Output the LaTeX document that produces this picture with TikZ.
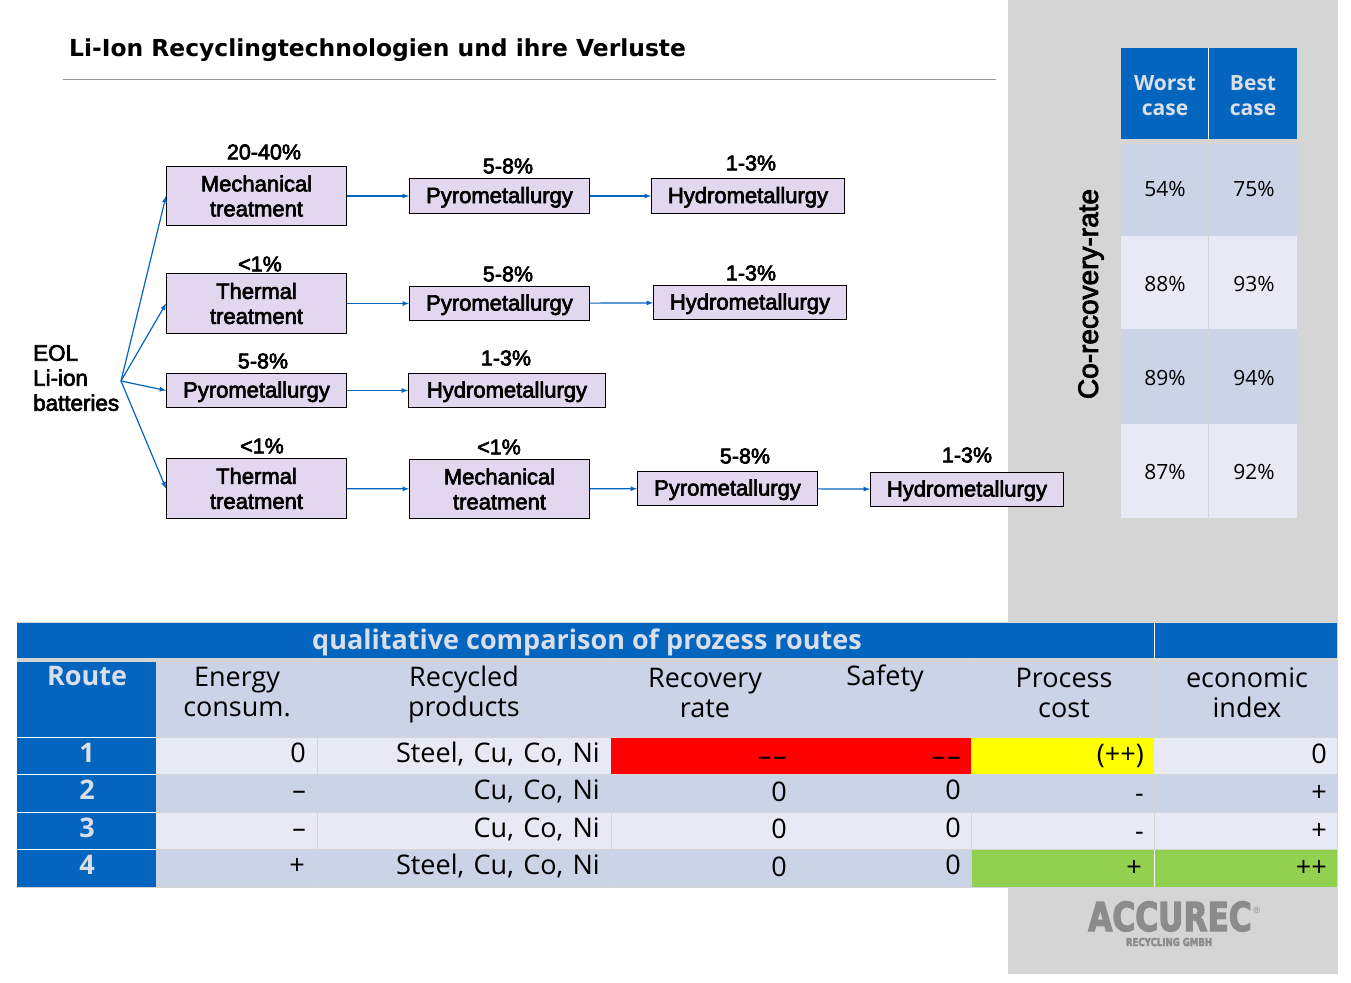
\documentclass[tikz,border=0pt]{standalone}
\usepackage{fontspec}
\usetikzlibrary{arrows}
\setmainfont{Liberation Sans}
\newfontfamily\boxfam[FakeBold=3]{Liberation Sans}
\newfontfamily\titlefam{DejaVu Sans}
\newfontfamily\cellfam{Open Sans}
\newfontfamily\logofam[FakeStretch=0.78,FakeBold=3]{DejaVu Sans Bold}
\definecolor{headblue}{HTML}{0465BF}
\definecolor{panelgray}{HTML}{D5D5D5}
\definecolor{boxlilac}{HTML}{E2D7EE}
\definecolor{rowdark}{HTML}{CBD3E7}
\definecolor{rowlight}{HTML}{E7EAF5}
\definecolor{headtext}{HTML}{D9DEE8}
\definecolor{okgreen}{HTML}{92D050}
\definecolor{signalyellow}{RGB}{255,255,0}
\definecolor{signalred}{RGB}{255,0,0}
\definecolor{logogray}{HTML}{8C8C8C}
\newcommand{\rowfont}{\cellfam\fontsize{27}{30}\selectfont\spaceskip 9.4pt\relax}
\tikzset{
  stepbox/.style={draw=black, line width=0.9pt, fill=boxlilac, inner sep=0pt, align=center, font=\boxfam\fontsize{22}{25}\selectfont},
  stepone/.style={stepbox, text height=18pt, text depth=4pt},
  loss/.style={inner sep=0pt, font=\boxfam\fontsize{21.5}{25}\selectfont},
  flow/.style={draw=headblue, line width=1.2pt, -latex},
  cellr/.style={inner sep=0pt, anchor=base east, font=\rowfont},
  cellc/.style={inner sep=0pt, anchor=base, align=center, font=\cellfam\fontsize{27}{30}\selectfont},
  routec/.style={inner sep=0pt, anchor=base, text=headtext, font=\cellfam\bfseries\fontsize{27}{30}\selectfont},
  ratec/.style={inner sep=0pt, font=\cellfam\fontsize{21}{25}\selectfont},
  casec/.style={inner sep=0pt, align=center, text=headtext, font=\cellfam\bfseries\fontsize{21}{25}\selectfont}
}
\begin{document}
\begin{tikzpicture}[x=1pt, y=-1pt]
  \useasboundingbox (0,0) rectangle (1351,982);
  \fill [white] (0,0) rectangle (1351,982);
  \fill [panelgray] (1008,0) rectangle (1338,974);

  \node (title) [inner sep=0pt, anchor=base west, font=\titlefam\bfseries\fontsize{23.4}{26}\selectfont] at (69,56.5) {Li-Ion Recyclingtechnologien und ihre Verluste};
  \draw [gray!80, line width=0.8pt] (63,79) -- (996,79);

  \node (eol) [inner sep=0pt, anchor=west, align=left, font=\boxfam\fontsize{22.4}{25}\selectfont] at (33,378) {EOL\\Li-ion\\batteries};
  \coordinate (fork) at (121,381);

  \node (m1) [stepbox, minimum width=180, minimum height=59] at (256.5,196) {Mechanical\\treatment};
  \node (p1) [stepone, minimum width=180, minimum height=35] at (499.5,196) {Pyrometallurgy};
  \node (h1) [stepone, minimum width=193, minimum height=35] at (748,196) {Hydrometallurgy};
  \node (t2) [stepbox, minimum width=180, minimum height=60] at (256.5,303.5) {Thermal\\treatment};
  \node (p2) [stepone, minimum width=180, minimum height=34] at (499.5,303.5) {Pyrometallurgy};
  \node (h2) [stepone, minimum width=193, minimum height=34] at (750,302.5) {Hydrometallurgy};
  \node (p3) [stepone, minimum width=180, minimum height=34] at (256.5,390.5) {Pyrometallurgy};
  \node (h3) [stepone, minimum width=197, minimum height=34] at (507,390.5) {Hydrometallurgy};
  \node (t4) [stepbox, minimum width=180, minimum height=60] at (256.5,488.5) {Thermal\\treatment};
  \node (m4) [stepbox, minimum width=180, minimum height=59] at (499.5,489) {Mechanical\\treatment};
  \node (p4) [stepone, minimum width=180, minimum height=34] at (727.5,488.5) {Pyrometallurgy};
  \node (h4) [stepone, minimum width=193, minimum height=34] at (967,489.5) {Hydrometallurgy};

  \node (lm1) [loss] at (264,152) {20-40\%};
  \node (lp1) [loss] at (508,166) {5-8\%};
  \node (lh1) [loss] at (751,163) {1-3\%};
  \node (lt2) [loss] at (260,264) {<1\%};
  \node (lp2) [loss] at (508,274) {5-8\%};
  \node (lh2) [loss] at (751,273) {1-3\%};
  \node (lp3) [loss] at (263,361) {5-8\%};
  \node (lh3) [loss] at (506,358) {1-3\%};
  \node (lt4) [loss] at (262,446) {<1\%};
  \node (lm4) [loss] at (499,447) {<1\%};
  \node (lp4) [loss] at (745,456) {5-8\%};
  \node (lh4) [loss] at (967,455) {1-3\%};

  \draw [flow] (fork) -- (m1.west);
  \draw [flow] (fork) -- (t2.west);
  \draw [flow] (fork) -- (p3.west);
  \draw [flow] (fork) -- (t4.west);
  \draw [flow] (m1) -- (p1);
  \draw [flow] (p1) -- (h1);
  \draw [flow] (t2) -- (p2);
  \draw [flow] (p2) -- (h2);
  \draw [flow] (p3) -- (h3);
  \draw [flow] (t4) -- (m4);
  \draw [flow] (m4) -- (p4);
  \draw [flow] (p4) -- (h4);

  \node (corate) [inner sep=0pt, rotate=90, font=\boxfam\fontsize{28}{30}\selectfont] at (1091,294) {Co-recovery-rate};

  \fill [headblue] (1121,48) rectangle (1297,139);
  \fill [rowdark] (1121,144) rectangle (1297,236);
  \fill [rowlight] (1121,236) rectangle (1297,329);
  \fill [rowdark] (1121,329) rectangle (1297,424);
  \fill [rowlight] (1121,424) rectangle (1297,518);
  \draw [white, line width=0.8pt] (1208.5,48) -- (1208.5,139);
  \draw [panelgray, line width=0.8pt] (1208.5,144) -- (1208.5,518);
  \node (worst) [casec] at (1165,96) {Worst\\case};
  \node (best) [casec] at (1253,96) {Best\\case};
  \node (w1) [ratec] at (1165,189) {54\%};
  \node (b1) [ratec] at (1254,189) {75\%};
  \node (w2) [ratec] at (1165,284) {88\%};
  \node (b2) [ratec] at (1254,284) {93\%};
  \node (w3) [ratec] at (1165,378) {89\%};
  \node (b3) [ratec] at (1254,378) {94\%};
  \node (w4) [ratec] at (1165,472) {87\%};
  \node (b4) [ratec] at (1254,472) {92\%};

  \fill [panelgray] (17,622) rectangle (1338,888);
  \fill [headblue] (17,623) rectangle (1337,658);
  \fill [headblue] (17,662) rectangle (156,887);
  \fill [rowdark] (156,662) rectangle (1337,737);
  \fill [rowlight] (156,738) rectangle (1337,774);
  \fill [rowdark] (156,775) rectangle (1337,812);
  \fill [rowlight] (156,813) rectangle (1337,849);
  \fill [rowdark] (156,850) rectangle (1337,887);
  \fill [signalred] (611,738) rectangle (971,774);
  \fill [signalyellow] (971,738) rectangle (1154,774);
  \fill [okgreen] (971.5,850) rectangle (1337,887);
  \draw [white, line width=0.8pt] (1154.5,623) -- (1154.5,658);
  \draw [white, line width=0.8pt] (17,737.5) -- (156,737.5);
  \draw [white, line width=0.8pt] (17,774.5) -- (156,774.5);
  \draw [white, line width=0.8pt] (17,812.5) -- (156,812.5);
  \draw [white, line width=0.8pt] (17,849.5) -- (156,849.5);
  \draw [panelgray, line width=0.6pt] (317.5,662) -- (317.5,887);
  \draw [panelgray, line width=0.6pt] (611,662) -- (611,738);
  \draw [panelgray, line width=0.6pt] (611,774) -- (611,887);
  \draw [panelgray, line width=0.6pt] (971.5,662) -- (971.5,738);
  \draw [panelgray, line width=0.6pt] (971.5,774) -- (971.5,850);
  \draw [panelgray, line width=0.6pt] (1154.5,662) -- (1154.5,738);
  \draw [panelgray, line width=0.6pt] (1154.5,774) -- (1154.5,850);
  \draw [white, line width=0.6pt] (1154.5,850) -- (1154.5,887);

  \node (tabtitle) [routec] at (587,649) {qualitative comparison of prozess routes};
  \node (route) [routec] at (87,685) {Route};
  \node (rt1) [routec] at (87,762) {1};
  \node (rt2) [routec] at (87,799) {2};
  \node (rt3) [routec] at (87,837) {3};
  \node (rt4) [routec] at (87,874) {4};

  \node (henergy) [cellc] at (237,716) {Energy\\consum.};
  \node (hprod) [cellc] at (464,716) {Recycled\\products};
  \node (hrec) [cellc] at (705,717) {Recovery\\rate};
  \node (hsafe) [cellc] at (885,685) {Safety};
  \node (hcost) [cellc] at (1064,717) {Process\\cost};
  \node (hecon) [cellc] at (1247,717) {economic\\index};

  \node (e1) [cellr] at (306,762) {0};
  \node (e2) [cellr] at (306,799) {–};
  \node (e3) [cellr] at (306,837) {–};
  \node (e4) [cellr] at (305,874) {+};
  \node (s1) [cellr] at (600,762) {Steel, Cu, Co, Ni};
  \node (s2) [cellr] at (600,799) {Cu, Co, Ni};
  \node (s3) [cellr] at (600,837) {Cu, Co, Ni};
  \node (s4) [cellr] at (600,874) {Steel, Cu, Co, Ni};
  \node (r1) [cellr] at (787,765) {–\kern2pt–};
  \node (r2) [cellr] at (787,801) {0};
  \node (r3) [cellr] at (787,838) {0};
  \node (r4) [cellr] at (787,876) {0};
  \node (f1) [cellr] at (961,765) {–\kern2pt–};
  \node (f2) [cellr] at (961,799) {0};
  \node (f3) [cellr] at (961,837) {0};
  \node (f4) [cellr] at (961,874) {0};
  \node (c1) [cellr] at (1144,763) {(++)};
  \node (c2) [cellr] at (1144,802) {-};
  \node (c3) [cellr] at (1144,840) {-};
  \node (c4) [cellr] at (1142,876) {+};
  \node (x1) [cellr] at (1327,763) {0};
  \node (x2) [cellr] at (1327,801) {+};
  \node (x3) [cellr] at (1327,839) {+};
  \node (x4) [cellr] at (1327,876) {++};

  \node (logo) [inner sep=0pt, anchor=base west, text=logogray, font=\logofam\fontsize{40}{44}\selectfont] at (1088,931) {ACCUREC};
  \node (logoreg) [inner sep=0pt, text=logogray, font=\fontsize{9}{10}\selectfont] at (1257,910) {®};
  \node (logosub) [inner sep=0pt, text=logogray, font=\logofam\fontsize{11}{12}\selectfont] at (1169,942) {RECYCLING GMBH};
\end{tikzpicture}
\end{document}
